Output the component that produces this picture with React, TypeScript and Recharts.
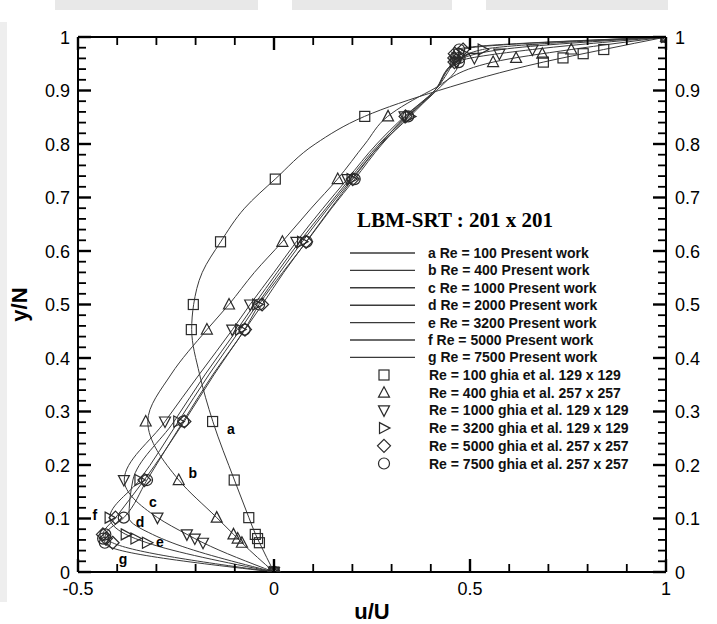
import React from "react";
import { ComposedChart, Line, Scatter, XAxis, YAxis, ReferenceDot } from "recharts";

// chart box (plot area is fixed by axis sizes below)
const W = 717;
const H = 624;
const LEFT = 78;
const RIGHT = 666;
const TOP = 37;
const BOTTOM = 572;

const SANS = "Arial, 'Liberation Sans', sans-serif";
const SERIF = "'Times New Roman', 'Liberation Serif', serif";
const LINE_COLOR = "#3a3a3a";
const MARK_COLOR = "#2a2a2a";
const TICK_COLOR = "#000";

// axis ticks
const X_TICKS = [-0.5, -0.4, -0.3, -0.2, -0.1, 0, 0.1, 0.2, 0.3, 0.4, 0.5, 0.6, 0.7, 0.8, 0.9, 1];
const X_MAJOR = [-0.5, 0, 0.5, 1];
const Y_TICKS = [
  0, 0.02, 0.04, 0.06, 0.08, 0.1, 0.12, 0.14, 0.16, 0.18, 0.2, 0.22, 0.24, 0.26, 0.28, 0.3,
  0.32, 0.34, 0.36, 0.38, 0.4, 0.42, 0.44, 0.46, 0.48, 0.5, 0.52, 0.54, 0.56, 0.58, 0.6,
  0.62, 0.64, 0.66, 0.68, 0.7, 0.72, 0.74, 0.76, 0.78, 0.8, 0.82, 0.84, 0.86, 0.88, 0.9,
  0.92, 0.94, 0.96, 0.98, 1,
];
const Y_MAJOR = [0, 0.1, 0.2, 0.3, 0.4, 0.5, 0.6, 0.7, 0.8, 0.9, 1];

// present work (LBM) profiles
const PW_Y = [0, 0.0547, 0.0703, 0.1016, 0.1719, 0.2813, 0.37, 0.4531, 0.5, 0.56, 0.6172, 0.68, 0.7344, 0.8, 0.8516, 0.9, 0.9531, 0.9766, 1];
const PW_RE100 = [0, -0.037, -0.047, -0.064, -0.101, -0.156, -0.19, -0.21, -0.205, -0.183, -0.136, -0.075, 0.003, 0.105, 0.231, 0.42, 0.687, 0.841, 1];
const PW_RE400 = [0, -0.082, -0.103, -0.146, -0.243, -0.322, -0.262, -0.171, -0.115, -0.05, 0.021, 0.095, 0.162, 0.232, 0.29, 0.4, 0.559, 0.758, 1];
const PW_RE1000 = [0, -0.181, -0.222, -0.297, -0.382, -0.278, -0.19, -0.106, -0.061, 0.0, 0.057, 0.125, 0.187, 0.262, 0.333, 0.41, 0.466, 0.659, 1];
const PW_RE2000 = [0, -0.26, -0.31, -0.37, -0.36, -0.255, -0.175, -0.094, -0.05, 0.008, 0.065, 0.133, 0.193, 0.268, 0.34, 0.41, 0.463, 0.58, 1];
const PW_RE3200 = [0, -0.324, -0.378, -0.419, -0.343, -0.244, -0.165, -0.086, -0.043, 0.015, 0.072, 0.138, 0.198, 0.273, 0.347, 0.41, 0.461, 0.532, 1];
const PW_RE5000 = [0, -0.412, -0.436, -0.404, -0.331, -0.229, -0.152, -0.074, -0.03, 0.025, 0.082, 0.145, 0.201, 0.272, 0.336, 0.41, 0.46, 0.482, 1];
const PW_RE7500 = [0, -0.432, -0.43, -0.383, -0.324, -0.232, -0.155, -0.075, -0.038, 0.022, 0.083, 0.147, 0.206, 0.276, 0.342, 0.415, 0.472, 0.472, 1];

// Ghia et al. benchmark points
const GHIA_Y = [1, 0.9766, 0.9688, 0.9609, 0.9531, 0.8516, 0.7344, 0.6172, 0.5, 0.4531, 0.2813, 0.1719, 0.1016, 0.0703, 0.0625, 0.0547, 0];
const GHIA_RE100 = [1, 0.84123, 0.78871, 0.73722, 0.68717, 0.23151, 0.00332, -0.13641, -0.20581, -0.2109, -0.15662, -0.1015, -0.06434, -0.04775, -0.04192, -0.03717, 0];
const GHIA_RE400 = [1, 0.75837, 0.68439, 0.61756, 0.55892, 0.29093, 0.16256, 0.02135, -0.11477, -0.17119, -0.32726, -0.24299, -0.14612, -0.10338, -0.09266, -0.08186, 0];
const GHIA_RE1000 = [1, 0.65928, 0.57492, 0.51117, 0.46604, 0.33304, 0.18719, 0.05702, -0.0608, -0.10648, -0.27805, -0.38289, -0.2973, -0.2222, -0.20196, -0.18109, 0];
const GHIA_RE3200 = [1, 0.53236, 0.48296, 0.46547, 0.46101, 0.34682, 0.19791, 0.07156, -0.04272, -0.08636, -0.24427, -0.34323, -0.41933, -0.37827, -0.35344, -0.32407, 0];
const GHIA_RE5000 = [1, 0.48223, 0.4612, 0.45992, 0.46036, 0.33556, 0.20087, 0.08183, -0.03039, -0.07404, -0.22855, -0.3305, -0.40435, -0.43643, -0.42901, -0.41165, 0];
const GHIA_RE7500 = [1, 0.47244, 0.47048, 0.47323, 0.47167, 0.34228, 0.20591, 0.08342, -0.038, -0.07503, -0.23176, -0.32393, -0.38324, -0.43025, -0.4359, -0.43154, 0];

const PW_LABELS = ["a", "b", "c", "d", "e", "f", "g"];
const PW_RE = ["100", "400", "1000", "2000", "3200", "5000", "7500"];
const GHIA_LEGEND = [
  "Re = 100 ghia et al. 129 x 129",
  "Re = 400 ghia et al. 257 x 257",
  "Re = 1000 ghia et al. 129 x 129",
  "Re = 3200 ghia et al. 129 x 129",
  "Re = 5000 ghia et al. 257 x 257",
  "Re = 7500 ghia et al. 257 x 257",
];
// where the curve letters sit (u, y)
const LABEL_U = [-0.11, -0.207, -0.309, -0.342, -0.291, -0.457, -0.385];
const LABEL_Y = [0.267, 0.185, 0.131, 0.093, 0.056, 0.107, 0.024];

const zip = (ys: number[], us: number[]) => ys.map((y, i) => ({ u: us[i], y }));

const pwSeries = [PW_RE100, PW_RE400, PW_RE1000, PW_RE2000, PW_RE3200, PW_RE5000, PW_RE7500].map((us) => zip(PW_Y, us));
const ghiaSeries = [GHIA_RE100, GHIA_RE400, GHIA_RE1000, GHIA_RE3200, GHIA_RE5000, GHIA_RE7500].map((us) => zip(GHIA_Y, us));

type Mk = { cx: number; cy: number };
const mkStyle = { fill: "none", stroke: MARK_COLOR, strokeWidth: 1.2 };

const Square = ({ cx, cy }: Mk) => <rect x={cx - 5} y={cy - 5} width={10} height={10} {...mkStyle} />;
const TriUp = ({ cx, cy }: Mk) => (
  <path d={`M${cx},${cy - 6} L${cx + 5.5},${cy + 4.5} L${cx - 5.5},${cy + 4.5} Z`} {...mkStyle} />
);
const TriDown = ({ cx, cy }: Mk) => (
  <path d={`M${cx},${cy + 6} L${cx + 5.5},${cy - 4.5} L${cx - 5.5},${cy - 4.5} Z`} {...mkStyle} />
);
const TriRight = ({ cx, cy }: Mk) => (
  <path d={`M${cx - 4.5},${cy - 5.5} L${cx + 6},${cy} L${cx - 4.5},${cy + 5.5} Z`} {...mkStyle} />
);
const Diamond = ({ cx, cy }: Mk) => (
  <path d={`M${cx},${cy - 6.5} L${cx + 6.5},${cy} L${cx},${cy + 6.5} L${cx - 6.5},${cy} Z`} {...mkStyle} />
);
const Circle = ({ cx, cy }: Mk) => <circle cx={cx} cy={cy} r={5.5} {...mkStyle} />;

const SHAPES = [Square, TriUp, TriDown, TriRight, Diamond, Circle];

const tickText = { fontFamily: SANS, fontSize: 18, fill: "#000" };
const near = (v: number, list: number[]) => list.some((m) => Math.abs(m - v) < 1e-6);
const fmt = (v: number) => String(Number(v.toFixed(1)));

// frame position of a tick value, only used for the inward tick marks
const px = (u: number) => LEFT + ((u + 0.5) / 1.5) * (RIGHT - LEFT);
const py = (y: number) => BOTTOM - y * (BOTTOM - TOP);

function XTick(props: any, side: "top" | "bottom") {
  const { x, payload } = props;
  const v = payload.value;
  if (!near(v, X_MAJOR)) return <g />;
  return (
    <text x={x} y={side === "bottom" ? 595 : 31} textAnchor="middle" style={tickText}>
      {fmt(v)}
    </text>
  );
}

function YTick(props: any, side: "left" | "right") {
  const { y, payload } = props;
  const v = payload.value;
  if (!near(v, Y_MAJOR)) return <g />;
  return (
    <text x={side === "left" ? 70 : 675} y={y + 6.5} textAnchor={side === "left" ? "end" : "start"} style={tickText}>
      {fmt(v)}
    </text>
  );
}

function TickMarks() {
  const marks: React.ReactNode[] = [];
  X_TICKS.forEach((u, i) => {
    const major = near(u, X_MAJOR);
    const len = major ? 13 : 8;
    const sw = major ? 2.4 : 1.8;
    const x = px(u);
    marks.push(<rect key={`xb${i}`} x={x - sw / 2} y={BOTTOM - len} width={sw} height={len} fill={TICK_COLOR} />);
    marks.push(<rect key={`xt${i}`} x={x - sw / 2} y={TOP} width={sw} height={len} fill={TICK_COLOR} />);
  });
  Y_TICKS.forEach((v, i) => {
    const major = near(v, Y_MAJOR);
    const len = major ? 13 : 8;
    const sw = major ? 2.4 : 1.8;
    const y = py(v);
    marks.push(<rect key={`yl${i}`} x={LEFT} y={y - sw / 2} width={len} height={sw} fill={TICK_COLOR} />);
    marks.push(<rect key={`yr${i}`} x={RIGHT - len} y={y - sw / 2} width={len} height={sw} fill={TICK_COLOR} />);
  });
  return <g>{marks}</g>;
}

function Overlay() {
  const txt = { fontFamily: SANS, fontSize: 14, fontWeight: 700, fill: "#111" } as const;
  return (
    <svg width={W} height={H} style={{ position: "absolute", left: 0, top: 0, pointerEvents: "none" }}>
      <TickMarks />
      <text x={357} y={227} style={{ fontFamily: SERIF, fontSize: 21, fontWeight: 700, fill: "#000" }}>
        LBM-SRT : 201 x 201
      </text>
      {PW_LABELS.map((l, i) => {
        const y = 253 + i * 17.4;
        return (
          <g key={l}>
            <line x1={350} x2={415} y1={y} y2={y} stroke={LINE_COLOR} strokeWidth={1.4} />
            <text x={428} y={y + 5} style={txt}>
              {`${l} Re = ${PW_RE[i]} Present work`}
            </text>
          </g>
        );
      })}
      {GHIA_LEGEND.map((t, i) => {
        const y = 375 + i * 17.7;
        const Shape = SHAPES[i];
        return (
          <g key={t}>
            <Shape cx={384} cy={y} />
            <text x={429} y={y + 5} style={txt}>
              {t}
            </text>
          </g>
        );
      })}
    </svg>
  );
}

export default function App() {
  return (
    <div style={{ position: "absolute", left: 0, top: 0, width: W, height: H, background: "#fff" }}>
      {/* faint scan bands from the source figure */}
      <div style={{ position: "absolute", left: 55, top: 0, width: 203, height: 10, background: "#e8e8e8" }} />
      <div style={{ position: "absolute", left: 292, top: 0, width: 160, height: 10, background: "#e8e8e8" }} />
      <div style={{ position: "absolute", left: 486, top: 0, width: 182, height: 10, background: "#e8e8e8" }} />
      <div style={{ position: "absolute", left: 0, top: 22, width: 7, height: 580, background: "#eeeeee" }} />

      <ComposedChart width={W} height={H} margin={{ top: 0, right: 0, bottom: 0, left: 0 }} style={{ position: "absolute", left: 0, top: 0 }}>
        <XAxis
          dataKey="u"
          type="number"
          domain={[-0.5, 1]}
          allowDataOverflow
          ticks={X_TICKS}
          interval={0}
          height={H - BOTTOM}
          axisLine={{ stroke: "#000", strokeWidth: 2 }}
          tickLine={false}
          tick={(p: any) => XTick(p, "bottom")}
          label={{ value: "u/U", position: "insideBottom", offset: 5, style: { fontFamily: SANS, fontSize: 22, fontWeight: 700, fill: "#000" } }}
        />
        <XAxis
          xAxisId="top"
          orientation="top"
          type="number"
          domain={[-0.5, 1]}
          allowDataOverflow
          ticks={X_TICKS}
          interval={0}
          height={TOP}
          axisLine={{ stroke: "#000", strokeWidth: 2 }}
          tickLine={false}
          tick={(p: any) => XTick(p, "top")}
        />
        <YAxis
          type="number"
          domain={[0, 1]}
          allowDataOverflow
          ticks={Y_TICKS}
          interval={0}
          width={LEFT}
          axisLine={{ stroke: "#000", strokeWidth: 2 }}
          tickLine={false}
          tick={(p: any) => YTick(p, "left")}
          label={{ value: "y/N", angle: -90, position: "insideLeft", offset: 19, style: { fontFamily: SANS, fontSize: 22, fontWeight: 700, fill: "#000", textAnchor: "middle" } }}
        />
        <YAxis
          yAxisId="right"
          orientation="right"
          type="number"
          domain={[0, 1]}
          allowDataOverflow
          ticks={Y_TICKS}
          interval={0}
          width={W - RIGHT}
          axisLine={{ stroke: "#000", strokeWidth: 2 }}
          tickLine={false}
          tick={(p: any) => YTick(p, "right")}
        />

        {pwSeries.map((d, i) => (
          <Line
            key={`pw-${i}`}
            data={d}
            dataKey="y"
            type="monotoneY"
            stroke={LINE_COLOR}
            strokeWidth={1}
            dot={false}
            activeDot={false}
            isAnimationActive={false}
          />
        ))}

        {ghiaSeries.map((d, i) => {
          const Shape = SHAPES[i];
          return (
            <Scatter
              key={`ghia-${i}`}
              data={d}
              dataKey="y"
              shape={(p: any) => <Shape cx={p.cx} cy={p.cy} />}
              isAnimationActive={false}
            />
          );
        })}

        {PW_LABELS.map((l, i) => (
          <ReferenceDot
            key={`lab-${l}`}
            x={LABEL_U[i]}
            y={LABEL_Y[i]}
            r={0}
            fill="none"
            stroke="none"
            label={{ value: l, position: "center", style: { fontFamily: SANS, fontSize: 14, fontWeight: 700, fill: "#000" } }}
          />
        ))}
      </ComposedChart>
      <Overlay />
    </div>
  );
}
